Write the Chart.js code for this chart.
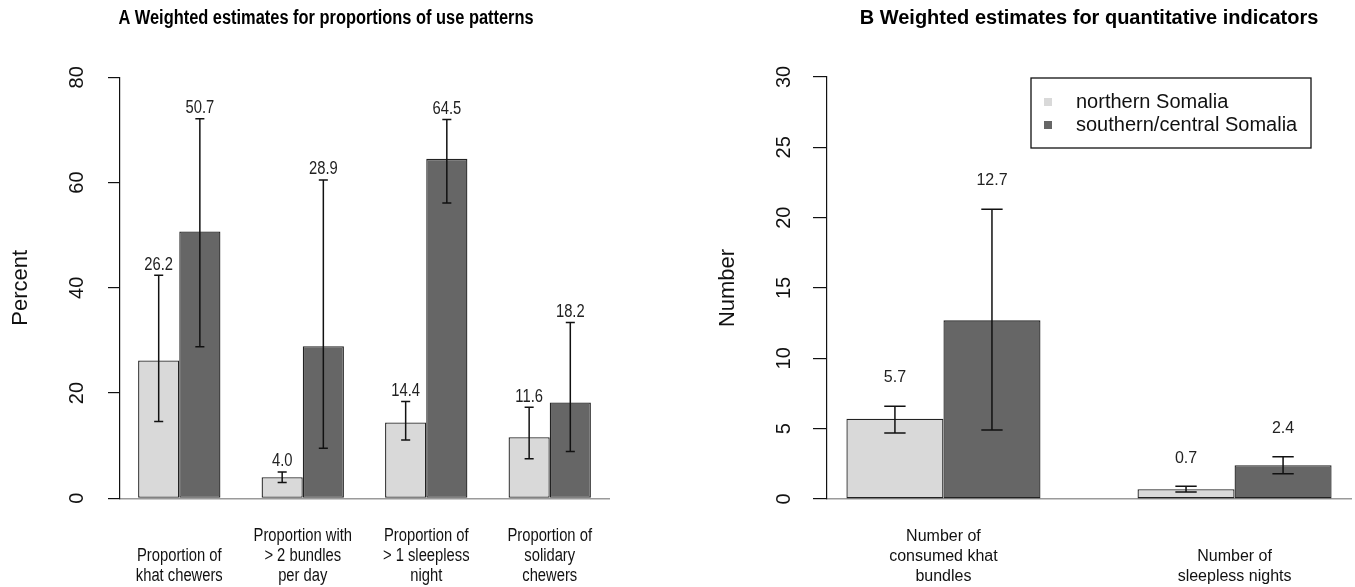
<!DOCTYPE html>
<html><head><meta charset="utf-8">
<script src="https://cdn.jsdelivr.net/npm/chart.js@4.4.1/dist/chart.umd.min.js"></script>
<style>
html,body{margin:0;padding:0;background:#fff;width:1355px;height:587px;overflow:hidden}
#wrapA{position:absolute;left:0;top:0;width:652px;height:587px}
#wrapB{position:absolute;left:707px;top:0;width:648px;height:587px}
</style></head><body>
<div id="wrapA"><canvas id="cA" width="652" height="587"></canvas></div>
<div id="wrapB"><canvas id="cB" width="648" height="587"></canvas></div>
<script>
// ---- data ----
const seriesNames = ['northern Somalia', 'southern/central Somalia'];

const titleA = 'A Weighted estimates for proportions of use patterns';
const categoriesA = [
  ['Proportion of', 'khat chewers'],
  ['Proportion with', '> 2 bundles', 'per day'],
  ['Proportion of', '> 1 sleepless', 'night'],
  ['Proportion of', 'solidary', 'chewers']
];
const northA   = [26.2, 4.0, 14.4, 11.6];
const northALo = [14.6, 3.0, 11.1, 7.5];
const northAHi = [42.4, 5.0, 18.4, 17.3];
const southA   = [50.7, 28.9, 64.5, 18.2];
const southALo = [28.8, 9.5, 56.1, 8.9];
const southAHi = [72.1, 60.5, 72.0, 33.4];

const titleB = 'B Weighted estimates for quantitative indicators';
const categoriesB = [
  ['Number of', 'consumed khat', 'bundles'],
  ['Number of', 'sleepless nights']
];
const northB   = [5.7, 0.7];
const northBLo = [4.7, 0.5];
const northBHi = [6.6, 0.9];
const southB   = [12.7, 2.4];
const southBLo = [4.9, 1.8];
const southBHi = [20.6, 3.0];

// ---- style ----
const FONT = '"Liberation Sans", Arial, Helvetica, sans-serif';
Chart.defaults.font.family = FONT;
Chart.defaults.color = '#111';
const LIGHT = '#d9d9d9', DARK = '#666666';
const LABEL_GAP = 2; // value labels sit 2 data units above the upper whisker

// draw text, optionally condensed horizontally (squeeze < 1)
function squeezedText(ctx, text, x, y, squeeze) {
  if (squeeze >= 1) { ctx.fillText(text, x, y); return; }
  ctx.fillText(text, x, y, ctx.measureText(text).width * squeeze);
}

const errorBarPlugin = {
  id: 'errorBars',
  afterDatasetsDraw(chart, args, opts) {
    const ctx = chart.ctx, ys = chart.scales.y;
    chart.data.datasets.forEach((ds, di) => {
      const meta = chart.getDatasetMeta(di);
      meta.data.forEach((bar, i) => {
        const yl = ys.getPixelForValue(ds.errLo[i]);
        const yh = ys.getPixelForValue(ds.errHi[i]);
        const cap = bar.width * 0.11;
        ctx.save();
        ctx.strokeStyle = '#111'; ctx.lineWidth = 1.5;
        ctx.beginPath();
        ctx.moveTo(bar.x, yl); ctx.lineTo(bar.x, yh);
        ctx.moveTo(bar.x - cap, yl); ctx.lineTo(bar.x + cap, yl);
        ctx.moveTo(bar.x - cap, yh); ctx.lineTo(bar.x + cap, yh);
        ctx.stroke();
        ctx.fillStyle = '#222';
        ctx.font = opts.size + 'px ' + FONT;
        ctx.textAlign = 'center'; ctx.textBaseline = 'middle';
        squeezedText(ctx, ds.data[i].y.toFixed(1), bar.x,
                     ys.getPixelForValue(ds.errHi[i] + LABEL_GAP), opts.squeeze);
        ctx.restore();
      });
    });
  }
};

// category labels under the groups (bottom-aligned lines) + panel title
const panelTextPlugin = {
  id: 'panelText',
  afterDraw(chart, args, opts) {
    const ctx = chart.ctx, xs = chart.scales.x, ca = chart.chartArea;
    ctx.save();
    ctx.fillStyle = '#111';
    ctx.textAlign = 'center'; ctx.textBaseline = 'middle';
    ctx.font = opts.catSize + 'px ' + FONT;
    xs.ticks.forEach((t, i) => {
      const lines = opts.cats[i];
      const x = xs.getPixelForValue(t.value);
      const lastY = ca.bottom + 78;
      lines.forEach((ln, k) => {
        squeezedText(ctx, ln, x, lastY - (lines.length - 1 - k) * 20, opts.squeeze);
      });
    });
    ctx.fillStyle = '#000';
    ctx.font = 'bold ' + opts.titleSize + 'px ' + FONT;
    const tx = opts.titleOnCanvas ? chart.width / 2 : (ca.left + ca.right) / 2;
    squeezedText(ctx, opts.title, tx, 18, opts.squeeze);
    ctx.restore();
  }
};

const boxLegendPlugin = {
  id: 'boxLegend',
  afterDraw(chart, args, opts) {
    if (!opts.show) return;
    const ca = chart.chartArea, ctx = chart.ctx;
    const left = ca.right - 320, right = ca.right - 40, top = ca.top + 1, h = 70;
    ctx.save();
    ctx.lineWidth = 1.3; ctx.strokeStyle = '#111';
    ctx.strokeRect(left, top, right - left, h);
    ctx.font = '20px ' + FONT;
    ctx.textAlign = 'left'; ctx.textBaseline = 'middle';
    chart.data.datasets.forEach((ds, i) => {
      const cy = top + 24 + i * 23;
      ctx.fillStyle = ds.backgroundColor;
      ctx.fillRect(left + 13, cy - 4, 8, 8);
      ctx.fillStyle = '#111';
      ctx.fillText(ds.label, left + 45, cy);
    });
    ctx.restore();
  }
};

function makeChart(canvas, p) {
  const n = p.cats.length;
  const ext = 0.04 * (3 * n - 1);
  const centers = p.cats.map((c, i) => 3 * i + 2);
  const mk = (vals, lo, hi, idx, color) => ({
    label: seriesNames[idx],
    data: vals.map((v, i) => ({ x: centers[i], y: v })),
    errLo: lo, errHi: hi,
    backgroundColor: color, borderColor: '#222', borderWidth: 1.3, borderSkipped: false,
    categoryPercentage: 2 / 3, barPercentage: 1
  });
  return new Chart(canvas, {
    type: 'bar',
    data: { datasets: [
      mk(p.north, p.northLo, p.northHi, 0, LIGHT),
      mk(p.south, p.southLo, p.southHi, 1, DARK)
    ]},
    options: {
      responsive: false, animation: false, devicePixelRatio: 1,
      events: [],
      layout: { padding: { left: 0, right: p.padRight, top: p.padTop, bottom: 0 } },
      plugins: {
        legend: { display: false }, tooltip: { enabled: false }, title: { display: false },
        boxLegend: { show: p.legend },
        errorBars: { size: p.valueSize, squeeze: p.squeeze },
        panelText: { cats: p.cats, catSize: p.catSize, title: p.title, titleSize: p.titleSize,
                     titleOnCanvas: p.titleOnCanvas, squeeze: p.squeeze }
      },
      scales: {
        x: {
          type: 'linear', offset: false, min: 1 - ext, max: 3 * n + ext,
          afterBuildTicks: s => { s.ticks = centers.map(v => ({ value: v })); },
          afterFit: s => { s.height = p.xHeight; },
          grid: { display: false, drawTicks: false },
          border: { display: true, color: '#9a9a9a', width: 1.5 },
          ticks: { display: false }
        },
        y: {
          min: 0, max: p.yMax,
          afterFit: s => { s.width = p.yWidth; },
          grid: { drawOnChartArea: false, drawTicks: true, tickLength: p.tl, color: '#111', lineWidth: 1.2 },
          border: { display: true, color: '#111', width: 1.2 },
          ticks: { stepSize: p.step, minRotation: 90, maxRotation: 90, crossAlign: 'center',
                   padding: 42 - p.tl - 11, color: '#111', font: { size: 20 } },
          title: { display: true, text: p.yTitle, color: '#111', font: { size: 22 }, padding: { top: 8, bottom: 0 } }
        }
      }
    },
    plugins: [errorBarPlugin, boxLegendPlugin, panelTextPlugin]
  });
}

makeChart(document.getElementById('cA'), {
  title: titleA, cats: categoriesA, north: northA, northLo: northALo, northHi: northAHi,
  south: southA, southLo: southALo, southHi: southAHi,
  yMax: 80, step: 20, yTitle: 'Percent', yWidth: 120, tl: 12, padRight: 43, padTop: 77.3, xHeight: 88.7,
  legend: false, squeeze: 0.82, titleSize: 20, titleOnCanvas: true, catSize: 18, valueSize: 18
});
makeChart(document.getElementById('cB'), {
  title: titleB, cats: categoriesB, north: northB, northLo: northBLo, northHi: northBHi,
  south: southB, southLo: southBLo, southHi: southBHi,
  yMax: 30, step: 5, yTitle: 'Number', yWidth: 120, tl: 14, padRight: 4, padTop: 77, xHeight: 88,
  legend: true, squeeze: 1, titleSize: 20, titleOnCanvas: false, catSize: 16, valueSize: 16
});
</script>
</body></html>
